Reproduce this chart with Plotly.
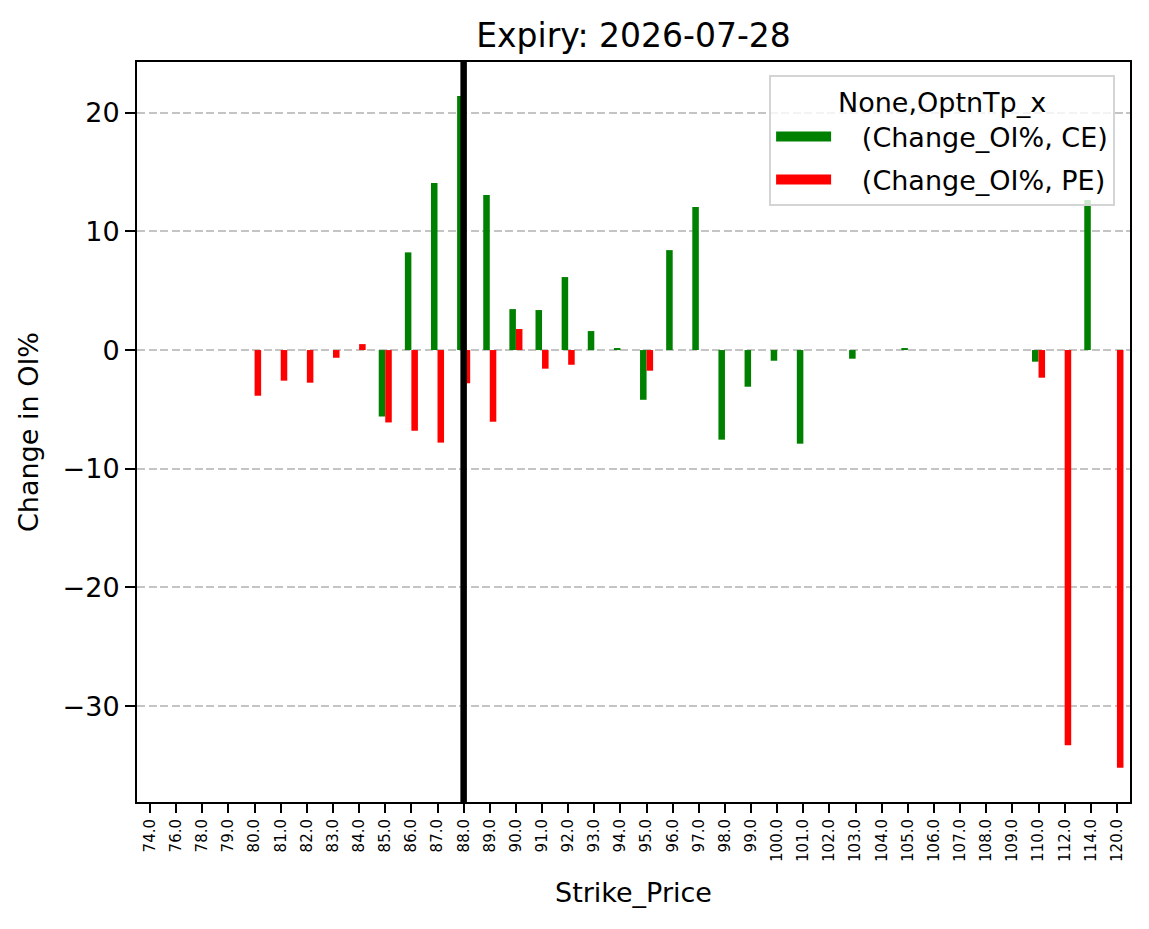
import plotly.graph_objects as go

strikes = ["74.0", "76.0", "78.0", "79.0", "80.0", "81.0", "82.0", "83.0", "84.0", "85.0",
           "86.0", "87.0", "88.0", "89.0", "90.0", "91.0", "92.0", "93.0", "94.0", "95.0",
           "96.0", "97.0", "98.0", "99.0", "100.0", "101.0", "102.0", "103.0", "104.0", "105.0",
           "106.0", "107.0", "108.0", "109.0", "110.0", "112.0", "114.0", "120.0"]

ce_change = [None, None, None, None, None, None, None, None, None, -5.6,
             8.23, 14.07, 21.4, 13.06, 3.45, 3.37, 6.15, 1.6, 0.17, -4.19,
             8.42, 12.05, -7.55, -3.09, -0.9, -7.89, None, -0.73, None, 0.17,
             None, None, None, None, -0.98, None, 12.64, None]

pe_change = [None, None, None, None, -3.85, -2.58, -2.75, -0.65, 0.5, -6.1,
             -6.8, -7.8, -2.8, -6.04, 1.77, -1.57, -1.24, None, None, -1.74,
             None, None, None, None, None, None, None, None, None, None,
             None, None, None, None, -2.33, -33.3, None, -35.2]

spot_strike = "88.0"

FONT = "DejaVu Sans"
pos = list(range(len(strikes)))
spot_pos = strikes.index(spot_strike)
NB = "\u00a0\u00a0\u00a0"

fig = go.Figure()
fig.add_trace(go.Bar(x=pos, y=ce_change, width=0.25, offset=-0.25,
                     marker=dict(color="#008000", line=dict(width=0)),
                     name="(Change_OI%, CE)", showlegend=False))
fig.add_trace(go.Bar(x=pos, y=pe_change, width=0.25, offset=0.0,
                     marker=dict(color="#ff0000", line=dict(width=0)),
                     name="(Change_OI%, PE)", showlegend=False))
# legend handles
fig.add_trace(go.Scatter(x=[None], y=[None], mode="lines", legendgroup="ce",
                         line=dict(color="#008000", width=19),
                         name=NB + "(Change_OI%, CE)"))
fig.add_trace(go.Scatter(x=[None], y=[None], mode="lines", legendgroup="pe",
                         line=dict(color="#ff0000", width=19),
                         name=NB + "(Change_OI%, PE)"))

fig.add_shape(type="line", xref="x", yref="paper", x0=spot_pos, x1=spot_pos, y0=0, y1=1,
              line=dict(color="black", width=6.5), layer="above")

fig.update_layout(
    width=1149, height=929,
    margin=dict(l=137, r=19, t=62, b=127),
    paper_bgcolor="white", plot_bgcolor="white",
    barmode="overlay",
    font=dict(family=FONT, size=27, color="black"),
    title=dict(text="Expiry: 2026-07-28", x=0.5, xref="paper", xanchor="center",
               y=1 - 35 / 929, yref="container", yanchor="middle",
               font=dict(family=FONT, size=33, color="black")),
    legend=dict(x=0.985, y=0.982, xanchor="right", yanchor="top",
                bgcolor="rgba(255,255,255,0.8)", bordercolor="#d4d4d4", borderwidth=2,
                font=dict(family=FONT, size=27, color="black"),
                title=dict(text="None,OptnTp_x", side="top center",
                           font=dict(family=FONT, size=27, color="black")),
                itemwidth=55, tracegroupgap=5),
    showlegend=True,
)

fig.update_xaxes(
    range=[-0.5, 37.5], tickmode="array", tickvals=pos, ticktext=strikes,
    tickangle=-90, tickfont=dict(family=FONT, size=15, color="black"),
    ticks="outside", ticklen=9, tickwidth=2, tickcolor="black",
    showline=True, linecolor="black", linewidth=2, mirror=True,
    showgrid=False, zeroline=False,
    title=dict(text="Strike_Price", standoff=22, font=dict(family=FONT, size=27, color="black")),
)
fig.update_yaxes(
    range=[-38.08, 24.27], tickmode="array", tickvals=[-30, -20, -10, 0, 10, 20],
    tickfont=dict(family=FONT, size=27, color="black"),
    ticks="outside", ticklen=10, tickwidth=2, tickcolor="black",
    showline=True, linecolor="black", linewidth=2, mirror=True,
    showgrid=True, gridcolor="#c4c4c4", griddash="8px,3.5px", gridwidth=1.5,
    zeroline=False,
    title=dict(text="Change in OI%", standoff=16, font=dict(family=FONT, size=27, color="black")),
)

fig.write_html("out.html")
